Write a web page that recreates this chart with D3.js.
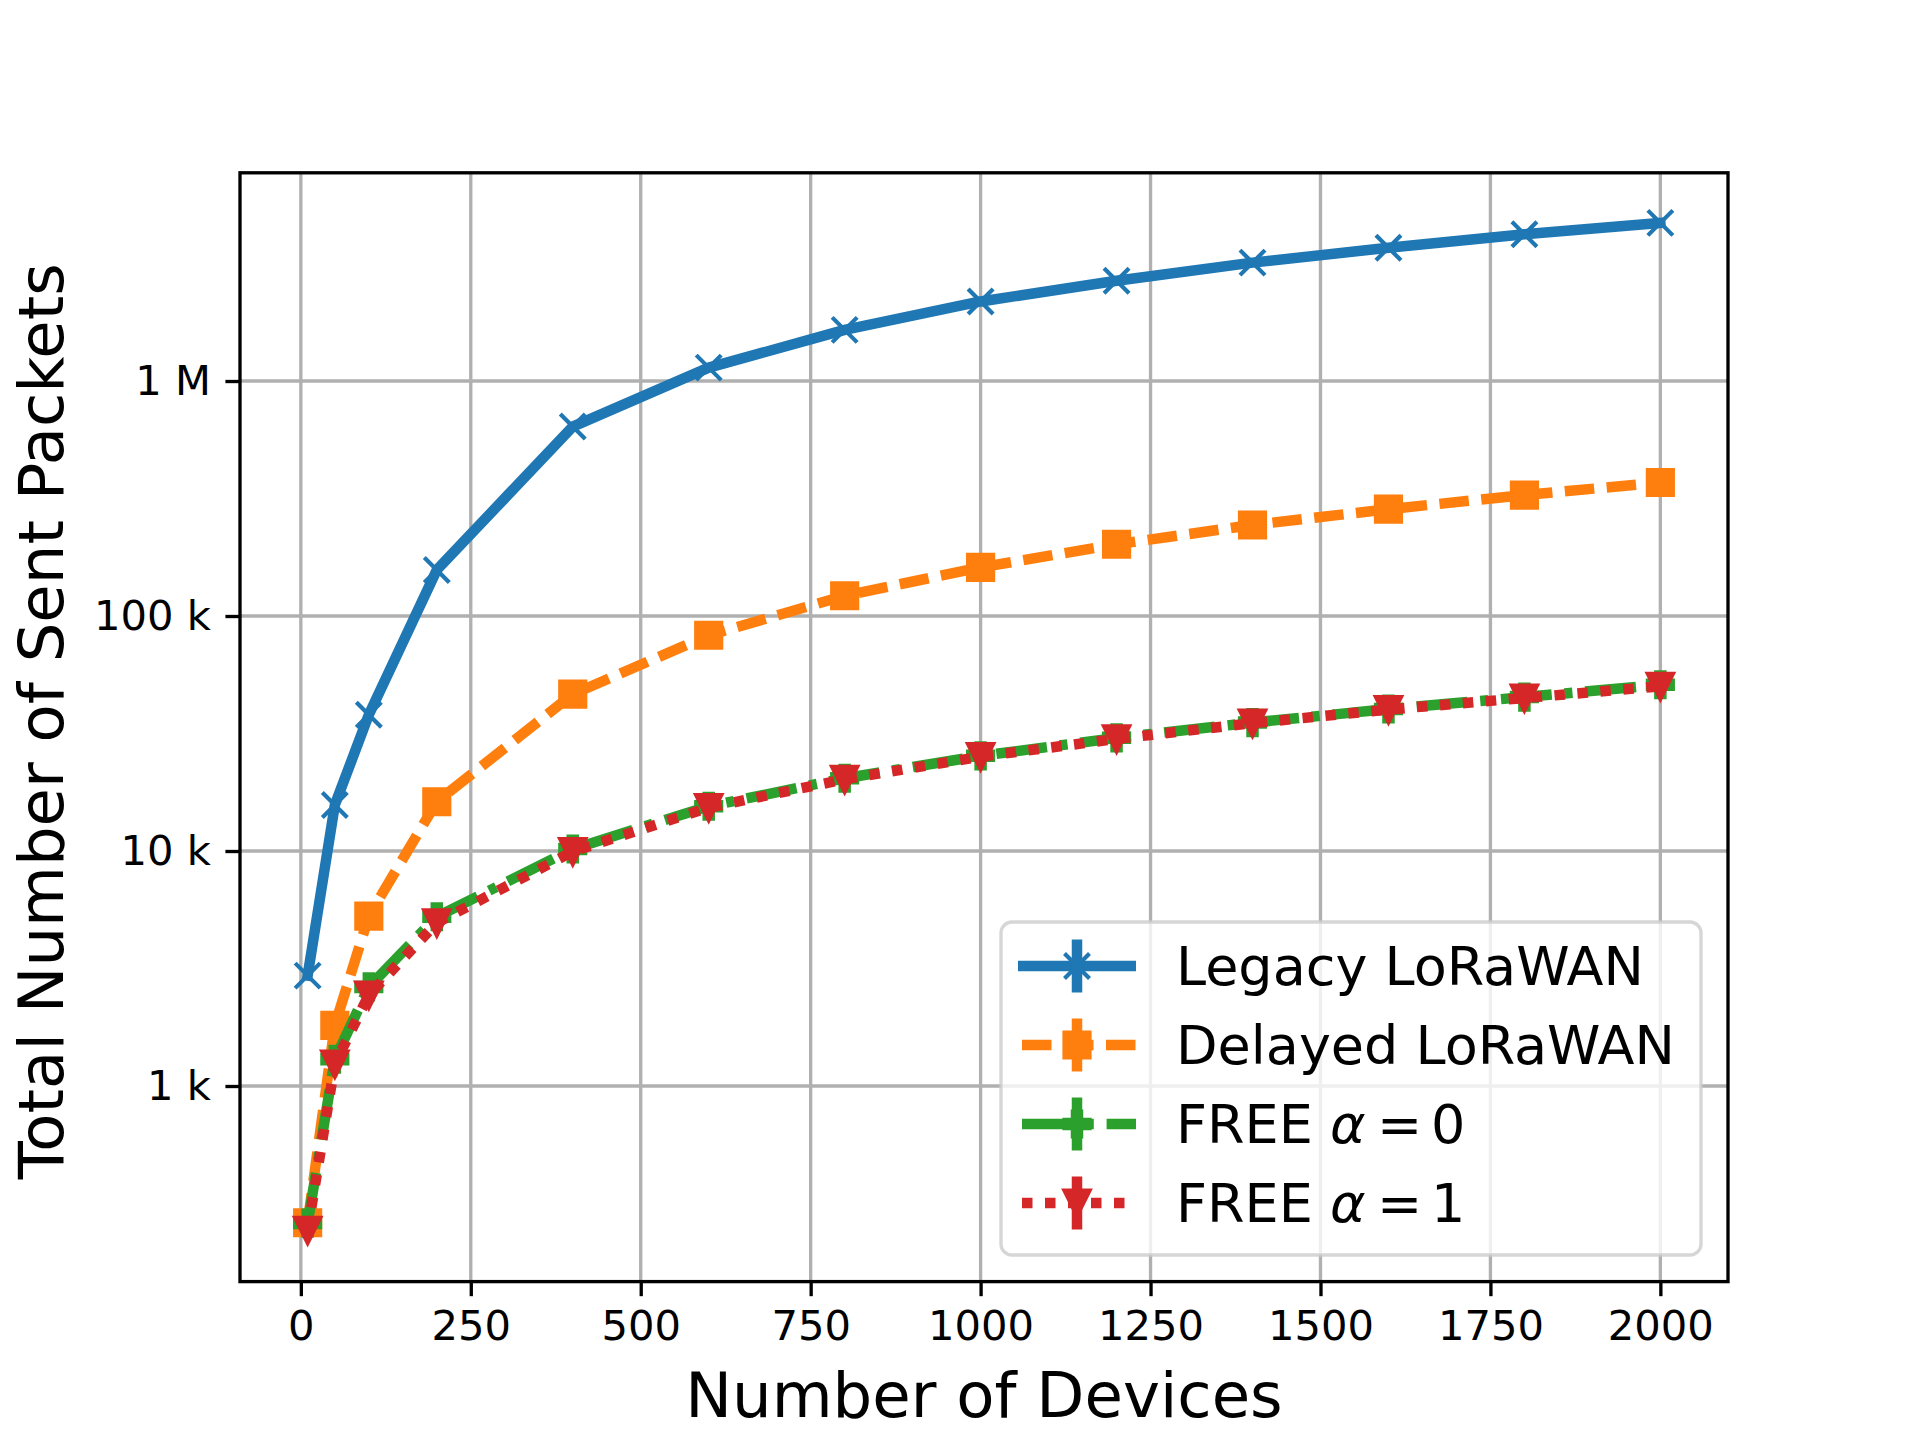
<!DOCTYPE html>
<html>
<head>
<meta charset="utf-8">
<script src="https://cdn.jsdelivr.net/npm/d3@7"></script>
<style>
  body { margin: 0; background: #fff; }
  svg { display: block; font-family: 'DejaVu Sans', sans-serif; }
</style>
</head>
<body>
<div id="chart"></div>
<script>
// values
const devices = [10, 50, 100, 200, 400, 600, 800, 1000, 1200, 1400, 1600, 1800, 2000];
const legacyLoRaWAN = [2950, 15700, 38000, 157000, 640000, 1140000, 1650000, 2180000, 2670000, 3190000, 3690000, 4210000, 4710000];
const delayedLoRaWAN = [262, 1810, 5280, 16200, 46500, 82800, 122000, 161000, 202000, 244000, 285000, 327000, 370000];
const freeAlpha0 = [261, 1300, 2640, 5250, 10200, 15500, 20400, 25400, 30300, 35200, 40200, 45200, 51000];
const freeAlpha1 = [243, 1240, 2440, 4950, 9950, 15300, 20200, 25200, 30000, 35000, 40000, 44800, 50200];

const seriesNames = ['Legacy LoRaWAN', 'Delayed LoRaWAN', 'FREE α = 0', 'FREE α = 1'];
const xTicks = [0, 250, 500, 750, 1000, 1250, 1500, 1750, 2000];
const yTicks = [1e3, 1e4, 1e5, 1e6];
const yTickLabels = ['1 k', '10 k', '100 k', '1 M'];

const width = 1920;
const height = 1440;
const margin = { left: 240, right: 192, top: 172.8, bottom: 158.4 };
const pt = 300 / 72; // figure was saved at 300 dpi
const lw = 10.5;

const series = [
  { name: seriesNames[0], values: legacyLoRaWAN, color: '#1f77b4', dash: null, marker: 'x' },
  { name: seriesNames[1], values: delayedLoRaWAN, color: '#ff7f0e', dash: [29.5, 12.5], marker: 's' },
  { name: seriesNames[2], values: freeAlpha0, color: '#2ca02c', dash: [51, 12.8, 8, 12.8], marker: 'P' },
  { name: seriesNames[3], values: freeAlpha1, color: '#d62728', dash: [10.5, 12.5], marker: 'v' }
];

const svg = d3.select('#chart')
  .append('svg')
  .attr('width', width)
  .attr('height', height);

const x = d3.scaleLinear()
  .domain([-89.5, 2099.5])
  .range([margin.left, width - margin.right]);

const y = d3.scaleLog()
  .domain([Math.pow(10, 2.1677), Math.pow(10, 6.886)])
  .range([height - margin.bottom, margin.top]);

const plotW = width - margin.left - margin.right;
const plotH = height - margin.top - margin.bottom;

// grid
const grid = svg.append('g').attr('stroke', '#b0b0b0').attr('stroke-width', 0.8 * pt);
grid.selectAll('.gx')
  .data(xTicks)
  .enter()
  .append('line')
  .attr('x1', d => x(d)).attr('x2', d => x(d))
  .attr('y1', margin.top).attr('y2', height - margin.bottom);
grid.selectAll('.gy')
  .data(yTicks)
  .enter()
  .append('line')
  .attr('y1', d => y(d)).attr('y2', d => y(d))
  .attr('x1', margin.left).attr('x2', width - margin.right);

// marker shapes, sizes as matplotlib ms=6
const ms = 6 * pt;
function markerPath(type) {
  const h = ms / 2;
  const a = ms / 6;
  if (type === 'x') return `M${-h},${-h}L${h},${h}M${-h},${h}L${h},${-h}`;
  if (type === 's') return `M${-h},${-h}H${h}V${h}H${-h}Z`;
  if (type === 'v') return `M0,${h}L${-h},${-h}L${h},${-h}Z`;
  // filled plus
  return `M${-a},${-h}H${a}V${-a}H${h}V${a}H${a}V${h}H${-a}V${a}H${-h}V${-a}H${-a}Z`;
}

const line = d3.line()
  .x((d, i) => x(devices[i]))
  .y(d => y(d));

const plot = svg.append('g');
series.forEach(s => {
  plot.append('path')
    .datum(s.values)
    .attr('d', line)
    .attr('fill', 'none')
    .attr('stroke', s.color)
    .attr('stroke-width', lw)
    .attr('stroke-linejoin', 'round')
    .attr('stroke-linecap', s.dash ? 'butt' : 'square')
    .attr('stroke-dasharray', s.dash ? s.dash.join(',') : null);

  plot.selectAll(null)
    .data(s.values)
    .enter()
    .append('path')
    .attr('transform', (d, i) => `translate(${x(devices[i])},${y(d)})`)
    .attr('d', markerPath(s.marker))
    .attr('fill', s.marker === 'x' ? 'none' : s.color)
    .attr('stroke', s.color)
    .attr('stroke-width', 1 * pt)
    .attr('stroke-linejoin', 'miter');
});

// axes
const xAxis = d3.axisBottom(x)
  .tickValues(xTicks)
  .tickSize(3.5 * pt)
  .tickPadding(3.5 * pt)
  .tickFormat(d3.format('d'));

const yAxis = d3.axisLeft(y)
  .tickValues(yTicks)
  .tickSize(3.5 * pt)
  .tickPadding(3.5 * pt)
  .tickFormat((d, i) => yTickLabels[i]);

const gx = svg.append('g')
  .attr('transform', `translate(0,${height - margin.bottom})`)
  .call(xAxis);
const gy = svg.append('g')
  .attr('transform', `translate(${margin.left},0)`)
  .call(yAxis);

[gx, gy].forEach(g => {
  g.select('.domain').remove();
  g.selectAll('.tick line').attr('stroke', '#000').attr('stroke-width', 0.8 * pt);
  g.selectAll('.tick text')
    .attr('fill', '#000')
    .style('font-family', "'DejaVu Sans', sans-serif")
    .style('font-size', (10 * pt) + 'px');
});

// frame
svg.append('rect')
  .attr('x', margin.left)
  .attr('y', margin.top)
  .attr('width', plotW)
  .attr('height', plotH)
  .attr('fill', 'none')
  .attr('stroke', '#000')
  .attr('stroke-width', 0.8 * pt)
  .attr('stroke-linejoin', 'miter');

// axis labels
svg.append('text')
  .attr('x', margin.left + plotW / 2)
  .attr('y', 1417)
  .attr('text-anchor', 'middle')
  .style('font-size', (15 * pt) + 'px')
  .text('Number of Devices');

svg.append('text')
  .attr('transform', `translate(63,${margin.top + plotH / 2 - 6}) rotate(-90)`)
  .attr('text-anchor', 'middle')
  .style('font-size', (15 * pt) + 'px')
  .text('Total Number of Sent Packets');

// legend
const legend = svg.append('g');
legend.append('rect')
  .attr('x', 1001)
  .attr('y', 922)
  .attr('width', 700)
  .attr('height', 333)
  .attr('rx', 11)
  .attr('fill', '#fff')
  .attr('fill-opacity', 0.8)
  .attr('stroke', '#cccccc')
  .attr('stroke-opacity', 0.8)
  .attr('stroke-width', 0.8 * pt);

const rowY = [966, 1045, 1124, 1203];
const hx0 = 1018;
const hx1 = 1136;
const hxc = (hx0 + hx1) / 2;

series.forEach((s, i) => {
  const row = legend.append('g').attr('transform', `translate(0,${rowY[i]})`);
  row.append('line')
    .attr('x1', hx0 + (s.dash ? 4 : 0)).attr('x2', hx1)
    .attr('stroke', s.color)
    .attr('stroke-width', lw)
    .attr('stroke-linecap', 'butt')
    .attr('stroke-dasharray', s.dash ? s.dash.join(',') : null);
  // errorbar stub
  row.append('line')
    .attr('x1', hxc).attr('x2', hxc)
    .attr('y1', -26.5).attr('y2', 26.5)
    .attr('stroke', s.color)
    .attr('stroke-width', lw);
  row.append('path')
    .attr('transform', `translate(${hxc},0)`)
    .attr('d', markerPath(s.marker))
    .attr('fill', s.marker === 'x' ? 'none' : s.color)
    .attr('stroke', s.color)
    .attr('stroke-width', 1 * pt);

  const t = row.append('text')
    .attr('x', 1176)
    .attr('y', 19)
    .style('font-size', '54px');
  if (s.name.startsWith('FREE')) {
    const parts = s.name.split(' ');
    t.append('tspan').text('FREE');
    t.append('tspan').attr('x', 1330).style('font-style', 'italic').text('α');
    t.append('tspan').attr('x', 1377).text('=');
    t.append('tspan').attr('x', 1431).text(parts[3]);
  } else {
    t.text(s.name);
  }
});
</script>
</body>
</html>
